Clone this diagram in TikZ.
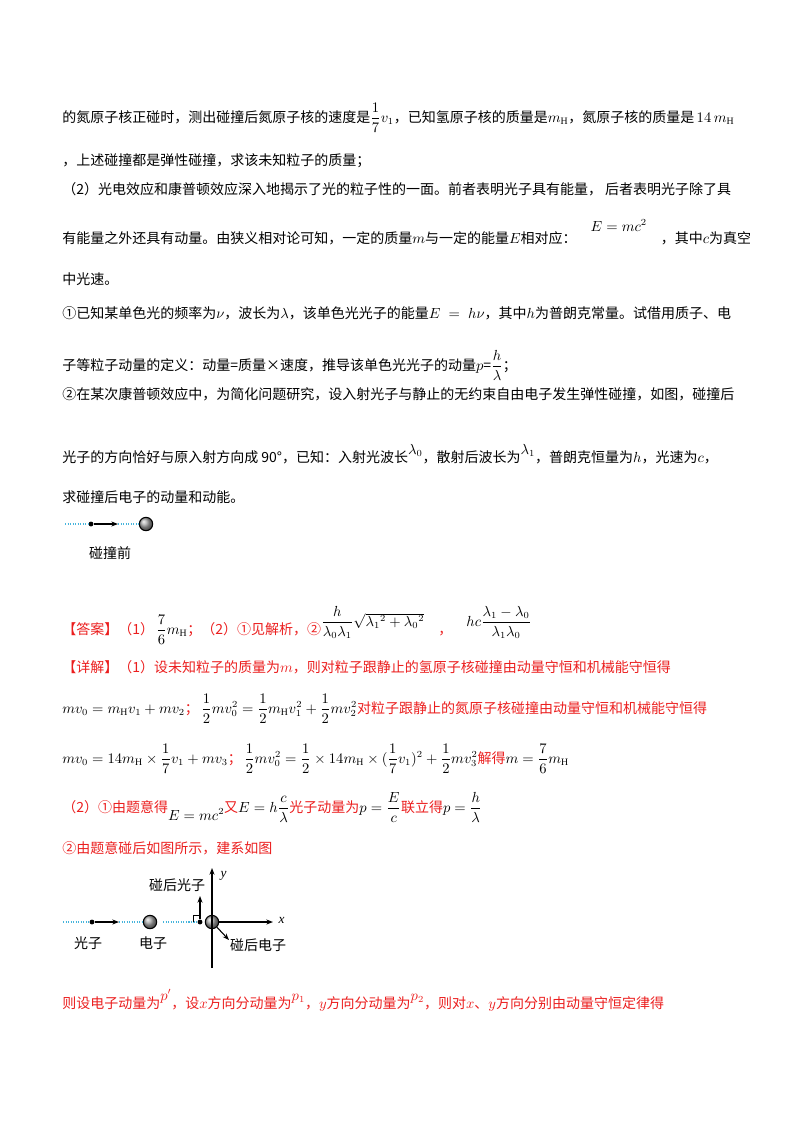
\documentclass[tikz,border=0pt]{standalone}
\usepackage{amsmath}
\usepackage{fontspec}
\setmainfont{Liberation Serif}
\newfontfamily\cjk{Noto Sans CJK SC}
\usetikzlibrary{arrows.meta}
\definecolor{ansred}{RGB}{235,30,30}
\definecolor{dcyan}{RGB}{70,180,220}
\newcommand{\rup}[1]{\raisebox{6pt}{$#1$}}
\begin{document}
\begin{tikzpicture}[x=0.75pt,y=-0.75pt,
  tl/.style={anchor=base west,inner sep=0pt,font=\cjk\fontsize{10.5pt}{12pt}\selectfont},
  rl/.style={tl,text=ansred},
  dl/.style={anchor=base,inner sep=0pt,font=\cjk\fontsize{10.5pt}{12pt}\selectfont},
  cdash/.style={dcyan,densely dotted,line width=0.9pt},
  arr/.style={-{Stealth[length=5pt]},line width=0.8pt},
  ball/.style={circle,draw=black,line width=0.8pt,inner sep=0pt,minimum size=10pt,ball color=gray!70}]
\useasboundingbox (0,0) rectangle (800,1132);
\node[tl] (l1) at (62,122) {的氮原子核正碰时，测出碰撞后氮原子核的速度是$\dfrac{1}{7}v_1$，已知氢原子核的质量是$m_{\rm H}$，氮原子核的质量是\,$14\,m_{\rm H}$};
\node[tl] (l2) at (62,165) {，上述碰撞都是弹性碰撞，求该未知粒子的质量；};
\node[tl] (l3) at (62,194) {（2）光电效应和康普顿效应深入地揭示了光的粒子性的一面。前者表明光子具有能量，\ 后者表明光子除了具};
\node[tl] (l4) at (62,243) {有能量之外还具有动量。由狭义相对论可知，一定的质量$m$与一定的能量$E$相对应：\quad\raisebox{9pt}{$E=mc^2$}\quad，其中$c$为真空};
\node[tl] (l5) at (62,284) {中光速。};
\node[tl] (l6) at (62,318) {①已知某单色光的频率为$\nu$，波长为$\lambda$，该单色光光子的能量$E\;=\;h\nu$，其中$h$为普朗克常量。试借用质子、电};
\node[tl] (l7) at (62,370) {子等粒子动量的定义：动量=质量×速度，推导该单色光光子的动量$p$=$\dfrac{h}{\lambda}$；};
\node[tl] (l8) at (62,399) {②在某次康普顿效应中，为简化问题研究，设入射光子与静止的无约束自由电子发生弹性碰撞，如图，碰撞后};
\node[tl] (l9) at (62,462) {光子的方向恰好与原入射方向成\ 90°，已知：入射光波长\rup{\lambda_0}，散射后波长为\rup{\lambda_1}，普朗克恒量为$h$，光速为$c$，};
\node[tl] (l10) at (62,502) {求碰撞后电子的动量和动能。};
% diagram 1
\coordinate (a1) at (65,524);
\node[circle,fill,inner sep=1.3pt] (p1) at (91,524) {};
\coordinate (p1e) at (118,524);
\node[ball] (e1) at (146,524) {};
\draw[cdash] (a1) -- (p1);
\draw[cdash] (p1e) -- (e1);
\draw[arr] (p1) -- (p1e);
\node[dl] (c1) at (110,558) {碰撞前};
% answer
\node[rl] (ans) at (62,634) {【答案】（1）\,{\color{black}$\dfrac{7}{6}m_{\rm H}$}；（2）①见解析，②{\color{black}\raisebox{6pt}{$\dfrac{h}{\lambda_0\lambda_1}\sqrt{\lambda_1{}^2+\lambda_0{}^2}$}}\quad，\quad{\color{black}\raisebox{6pt}{$hc\dfrac{\lambda_1-\lambda_0}{\lambda_1\lambda_0}$}}};
\node[rl] (x1) at (62,672) {【详解】（1）设未知粒子的质量为$m$，则对粒子跟静止的氢原子核碰撞由动量守恒和机械能守恒得};
\node[rl] (x2) at (62,713) {{\color{black}$mv_0=m_{\rm H}v_1+mv_2$}；\,{\color{black}$\dfrac12 mv_0^2=\dfrac12 m_{\rm H}v_1^2+\dfrac12 mv_2^2$}对粒子跟静止的氮原子核碰撞由动量守恒和机械能守恒得};
\node[rl] (x3) at (62,763) {{\color{black}$mv_0=14m_{\rm H}\times\dfrac17 v_1+mv_3$}；\,{\color{black}$\dfrac12 mv_0^2=\dfrac12\times14m_{\rm H}\times(\dfrac17 v_1)^2+\dfrac12 mv_3^2$}解得{\color{black}$m=\dfrac76 m_{\rm H}$}};
\node[rl] (x4) at (62,812) {（2）①由题意得{\color{black}\raisebox{-6pt}{$E=mc^2$}}又{\color{black}$E=h\dfrac{c}{\lambda}$}光子动量为{\color{black}$p=\dfrac{E}{c}$}联立得{\color{black}$p=\dfrac{h}{\lambda}$}};
\node[rl] (x5) at (62,853) {②由题意碰后如图所示，建系如图};
% diagram 2
\coordinate (b0) at (63,922);
\node[circle,fill,inner sep=1.3pt] (p2) at (92,922) {};
\coordinate (p2e) at (119,922);
\node[ball] (e2) at (150,922) {};
\draw[cdash] (b0) -- (p2);
\draw[cdash] (p2e) -- (e2);
\draw[arr] (p2) -- (p2e);
\node[dl] (g1) at (88,948) {光子};
\node[dl] (g2) at (153,948) {电子};
\coordinate (b1) at (163,922);
\node[circle,fill,inner sep=1.3pt] (p3) at (200,922) {};
\draw[cdash] (b1) -- (p3);
\node[ball] (e3) at (212,922) {};
\coordinate (xend) at (273,922);
\coordinate (ybot) at (212,968);
\coordinate (ytop) at (212,868);
\draw[arr] (e3) -- (xend);
\draw[arr] (ybot) -- (ytop);
\node[anchor=west,font=\itshape] (xl) at (274,920) {x};
\node[anchor=west,font=\itshape] (yl) at (216,876) {y};
\coordinate (pup) at (200,896);
\draw[arr] (p3) -- (pup);
\draw[line width=0.5pt] (193,922) -- (193,915) -- (200,915);
\node[dl] (g3) at (177,890) {碰后光子};
\coordinate (eout) at (229,940);
\draw[arr] (e3) -- (eout);
\node[dl] (g4) at (258,950) {碰后电子};
\node[rl] (last) at (62,1008) {则设电子动量为\rup{p'}，设$x$方向分动量为\rup{p_1}，$y$方向分动量为\rup{p_2}，则对$x$、$y$方向分别由动量守恒定律得};
\end{tikzpicture}
\end{document}
